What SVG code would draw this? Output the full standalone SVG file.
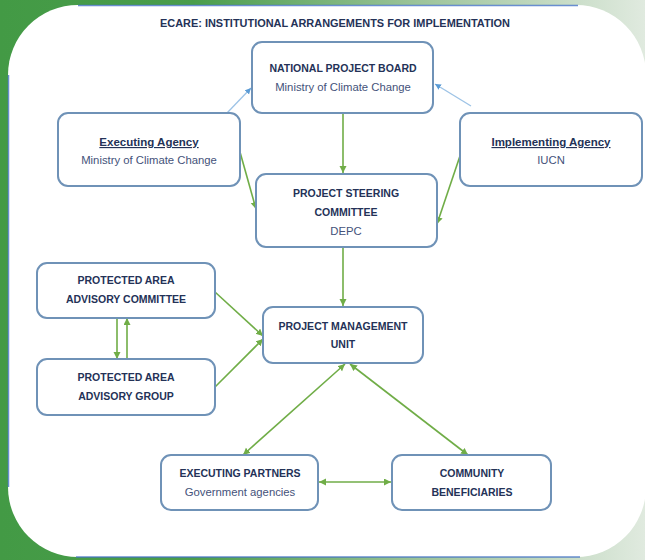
<svg xmlns="http://www.w3.org/2000/svg" width="645" height="560" viewBox="0 0 645 560">
<defs>
<linearGradient id="bg" x1="0" y1="0" x2="1" y2="0">
<stop offset="0" stop-color="#439a45"/>
<stop offset="0.3" stop-color="#4a9d4b"/>
<stop offset="0.65" stop-color="#9cc49a"/>
<stop offset="1" stop-color="#e0eadf"/>
</linearGradient>
<marker id="ga" markerUnits="userSpaceOnUse" markerWidth="8" markerHeight="8" refX="7" refY="3.5" orient="auto-start-reverse">
<path d="M0,0 L7,3.5 L0,7 z" fill="#70ad47"/>
</marker>
<marker id="ba" markerUnits="userSpaceOnUse" markerWidth="8" markerHeight="8" refX="6" refY="3" orient="auto">
<path d="M0,0 L6,3 L0,6 z" fill="#5b9bd5"/>
</marker>
<style>
.box{fill:#ffffff;stroke:#6f92b7;stroke-width:2}
.h{font-family:"Liberation Sans",Arial,sans-serif;font-weight:bold;font-size:10.5px;fill:#243257;text-anchor:middle}
.hu{font-family:"Liberation Sans",Arial,sans-serif;font-weight:bold;font-size:11.5px;fill:#243257;text-anchor:middle;text-decoration:underline}
.s{font-family:"Liberation Sans",Arial,sans-serif;font-size:11.3px;fill:#44527a;text-anchor:middle}
.g{stroke:#70ad47;stroke-width:1.6;fill:none}
.b{stroke:#9dc3e6;stroke-width:1.3;fill:none}
</style>
</defs>
<rect x="0" y="0" width="645" height="560" fill="url(#bg)"/>
<rect x="8" y="5" width="638" height="552" rx="70" ry="70" fill="#ffffff"/>
<g stroke="#4472c4" stroke-width="1.5" fill="none" opacity="0.8">
<line x1="78" y1="5.5" x2="578" y2="5.5"/>
<line x1="8.5" y1="75" x2="8.5" y2="487"/>
<line x1="76" y1="557" x2="580" y2="557"/>
</g>
<text x="335" y="27" class="h" textLength="350" lengthAdjust="spacingAndGlyphs">ECARE: INSTITUTIONAL ARRANGEMENTS FOR IMPLEMENTATION</text>

<g id="connectors">
<line class="g" x1="343" y1="113" x2="343" y2="173" marker-end="url(#ga)"/>
<line class="g" x1="240" y1="152" x2="256" y2="209" marker-end="url(#ga)"/>
<line class="b" x1="227" y1="113" x2="251" y2="88" marker-end="url(#ba)"/>
<line class="g" x1="462" y1="150" x2="437" y2="224" marker-end="url(#ga)"/>
<line class="b" x1="471" y1="106" x2="435" y2="84" marker-end="url(#ba)"/>
<line class="g" x1="343" y1="247" x2="343" y2="306" marker-end="url(#ga)"/>
<line class="g" x1="215" y1="292" x2="263" y2="336" marker-end="url(#ga)"/>
<line class="g" x1="215" y1="387" x2="263" y2="339" marker-end="url(#ga)"/>
<line class="g" x1="117" y1="318" x2="117" y2="359" marker-end="url(#ga)"/>
<line class="g" x1="127" y1="359" x2="127" y2="318" marker-end="url(#ga)"/>
<line class="g" x1="345" y1="364" x2="243" y2="455" marker-start="url(#ga)" marker-end="url(#ga)"/>
<line class="g" x1="350" y1="364" x2="468" y2="455" marker-start="url(#ga)" marker-end="url(#ga)"/>
<line class="g" x1="319" y1="482" x2="391" y2="482" marker-start="url(#ga)" marker-end="url(#ga)"/>
</g>

<g id="npb">
<rect class="box" x="252" y="42" width="181" height="71" rx="10"/>
<text x="343" y="72" class="h">NATIONAL PROJECT BOARD</text>
<text x="343" y="91" class="s">Ministry of Climate Change</text>
</g>
<g id="ea">
<rect class="box" x="58" y="113" width="182" height="73" rx="10"/>
<text x="149" y="146" class="hu">Executing Agency</text>
<text x="149" y="164" class="s">Ministry of Climate Change</text>
</g>
<g id="ia">
<rect class="box" x="460" y="113" width="182" height="73" rx="10"/>
<text x="551" y="146" class="hu">Implementing Agency</text>
<text x="551" y="164" class="s">IUCN</text>
</g>
<g id="psc">
<rect class="box" x="256" y="174" width="181" height="73" rx="10"/>
<text x="346" y="197" class="h">PROJECT STEERING</text>
<text x="346" y="216" class="h">COMMITTEE</text>
<text x="346" y="235" class="s">DEPC</text>
</g>
<g id="paac">
<rect class="box" x="37" y="263" width="178" height="55" rx="10"/>
<text x="126" y="284" class="h">PROTECTED AREA</text>
<text x="126" y="303" class="h">ADVISORY COMMITTEE</text>
</g>
<g id="paag">
<rect class="box" x="37" y="359" width="178" height="56" rx="10"/>
<text x="126" y="381" class="h">PROTECTED AREA</text>
<text x="126" y="400" class="h">ADVISORY GROUP</text>
</g>
<g id="pmu">
<rect class="box" x="263" y="307" width="160" height="56" rx="10"/>
<text x="343" y="330" class="h">PROJECT MANAGEMENT</text>
<text x="343" y="348" class="h">UNIT</text>
</g>
<g id="ep">
<rect class="box" x="161" y="455" width="157" height="55" rx="10"/>
<text x="240" y="477" class="h">EXECUTING PARTNERS</text>
<text x="240" y="496" class="s">Government agencies</text>
</g>
<g id="cb">
<rect class="box" x="392" y="455" width="159" height="55" rx="10"/>
<text x="472" y="477" class="h">COMMUNITY</text>
<text x="472" y="496" class="h">BENEFICIARIES</text>
</g>
</svg>
